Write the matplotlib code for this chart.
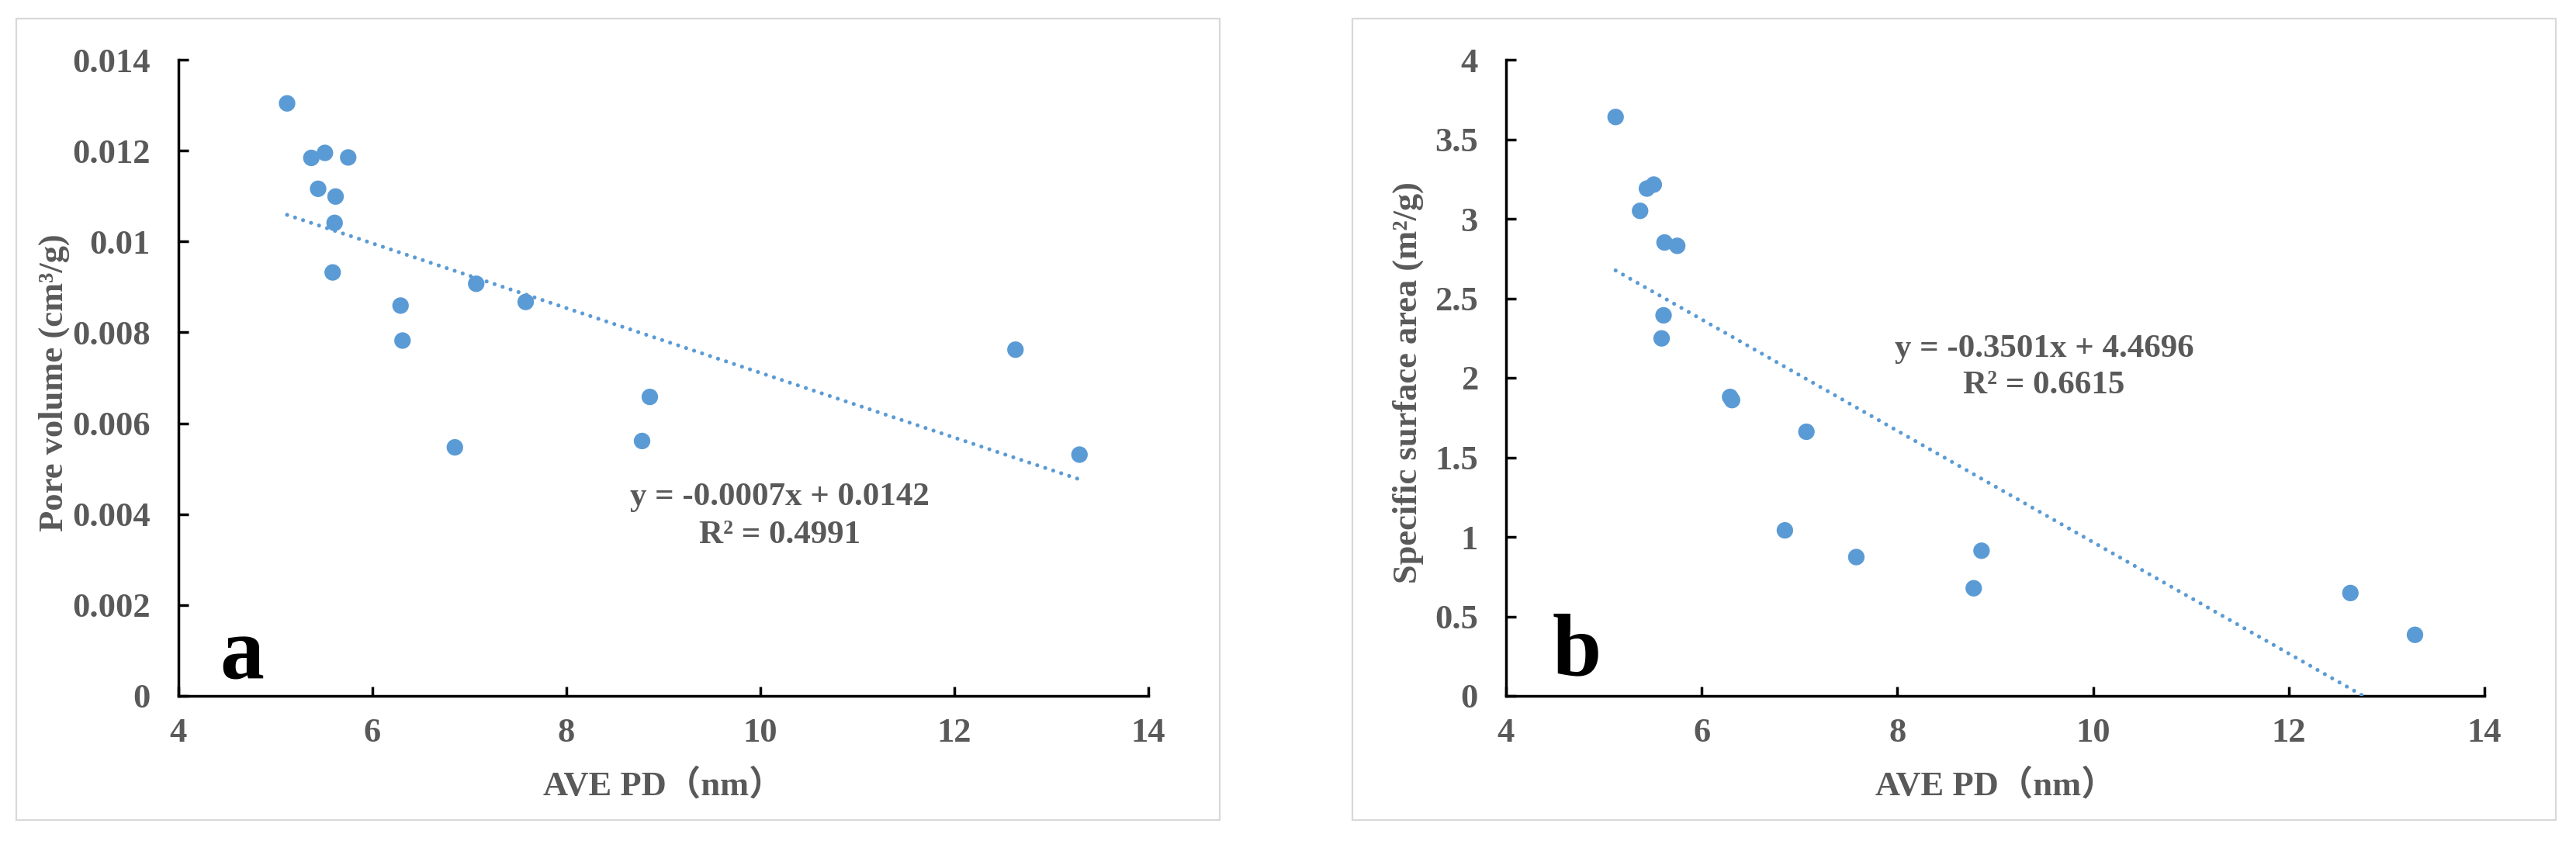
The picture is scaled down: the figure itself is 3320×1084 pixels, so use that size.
import numpy as np
import matplotlib
matplotlib.use('Agg')
import matplotlib.pyplot as plt
from matplotlib.patches import Rectangle

# AVE PD (nm), shared by both panels
pore_diam = [5.12, 5.37, 5.51, 5.44, 5.75, 5.62, 5.61, 5.59, 6.29, 6.31,
             7.07, 7.58, 6.85, 8.86, 8.78, 12.63, 13.29]
# panel a: pore volume (cm3/g)
pore_vol = [0.01304, 0.01184, 0.01195, 0.01116, 0.01185, 0.01099, 0.01041, 0.00932,
            0.00859, 0.00782, 0.00907, 0.00867, 0.00547, 0.00658, 0.00561, 0.00762, 0.00531]
# panel b: specific surface area (m2/g)
surf_area = [3.64, 3.05, 3.215, 3.19, 2.83, 2.851, 2.393, 2.248,
             1.880, 1.860, 1.661, 0.873, 1.041, 0.913, 0.677, 0.647, 0.384]

eq_a = ['y = -0.0007x + 0.0142', 'R² = 0.4991']
eq_b = ['y = -0.3501x + 4.4696', 'R² = 0.6615']

BLUE = '#5B9BD5'
GREY = '#595959'
SERIF = 'Liberation Serif'

plt.rcParams['font.family'] = [SERIF, 'Noto Sans CJK SC']
plt.rcParams['font.weight'] = 'bold'

fig = plt.figure(figsize=(33.2, 10.84), dpi=100)

# light grey frames round each chart
for x0, x1 in [(21, 1572), (1743, 3294)]:
    fig.patches.append(Rectangle((x0 / 3320, 27 / 1084), (x1 - x0) / 3320, 1033 / 1084,
                                 transform=fig.transFigure, fill=False,
                                 edgecolor='#d9d9d9', lw=1.6))

ax_a = fig.add_axes([230 / 3320, 187 / 1084, 1250 / 3320, 820 / 1084])
ax_b = fig.add_axes([1941 / 3320, 187 / 1084, 1261 / 3320, 820 / 1084])


def draw(ax, x, y, ymax, ystep, ylabel, eq, eq_pos, letter, letter_pos, ylab_x):
    x = np.array(x)
    y = np.array(y)
    ax.scatter(x, y, s=235, color=BLUE, edgecolors='none', zorder=2)
    # linear trendline, excel style, from min x to max x
    k, b = np.polyfit(x, y, 1)
    xs = np.array([x.min(), x.max()])
    ax.plot(xs, k * xs + b, color=BLUE, lw=3.7, ls=(0, (0.01, 2.1)),
            dash_capstyle='round', zorder=3)

    ax.set_xlim(4, 14)
    ax.set_ylim(0, ymax)
    ax.set_xticks(np.arange(4, 15, 2))
    yt = np.arange(0, ymax + ystep / 2, ystep)
    ax.set_yticks(yt)
    ax.set_yticklabels(['%g' % round(v, 6) for v in yt])
    ax.set_xticklabels(['%d' % v for v in np.arange(4, 15, 2)])

    for s in ['top', 'right']:
        ax.spines[s].set_visible(False)
    for s in ['left', 'bottom']:
        ax.spines[s].set_linewidth(2.5)
        ax.spines[s].set_color('black')
    ax.tick_params(direction='in', length=9, width=2.5, color='black',
                   labelsize=32, labelcolor=GREY)
    ax.tick_params(axis='x', pad=20)
    ax.tick_params(axis='y', pad=26)
    for t in ax.get_xticklabels() + ax.get_yticklabels():
        t.set_fontweight('bold')
        t.set_family(SERIF)

    ax.set_xlabel('AVE PD（nm）', fontsize=32, color=GREY, fontweight='bold')
    ax.xaxis.set_label_coords(0.5, -0.14)
    ax.xaxis.label.set_verticalalignment('center')
    ax.set_ylabel(ylabel, fontsize=32, color=GREY, fontweight='bold', family=SERIF)
    ax.yaxis.set_label_coords(ylab_x, 0.493)
    ax.yaxis.label.set_verticalalignment('center')

    ax.text(eq_pos[0], eq_pos[1], eq[0], transform=ax.transAxes, ha='center',
            va='center', fontsize=31, color=GREY, fontweight='bold', family=SERIF)
    ax.text(eq_pos[0], eq_pos[2], eq[1], transform=ax.transAxes, ha='center',
            va='center', fontsize=31, color=GREY, fontweight='bold', family=SERIF)
    ax.text(letter_pos[0], letter_pos[1], letter, transform=ax.transAxes, ha='left',
            va='baseline', fontsize=82, color='black', fontweight='bold', family=SERIF)


draw(ax_a, pore_diam, pore_vol, 0.014, 0.002, 'Pore volume (cm³/g)',
     eq_a, (0.620, 0.312, 0.252), 'a', (0.0424, 0.027), -0.128)
draw(ax_b, pore_diam, surf_area, 4.0, 0.5, 'Specific surface area (m²/g)',
     eq_b, (0.550, 0.545, 0.488), 'b', (0.047, 0.033), -0.0999)

fig.savefig('out.png', dpi=100, facecolor='white')
